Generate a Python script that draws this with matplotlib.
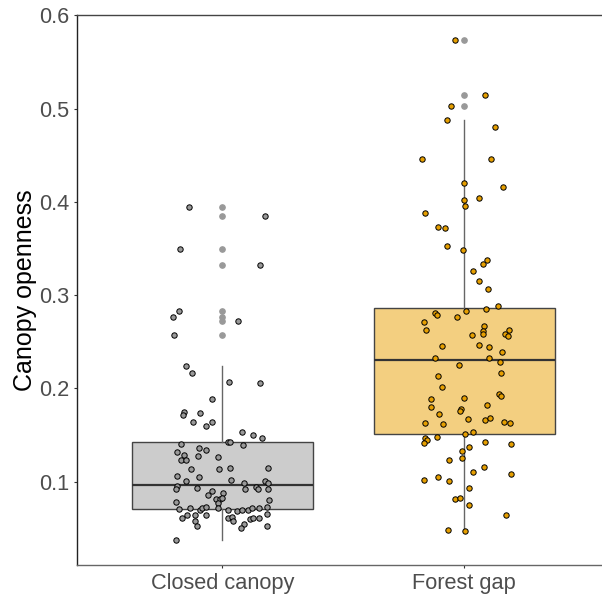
import numpy as np
import matplotlib
matplotlib.use("Agg")
import matplotlib.pyplot as plt

plt.rcParams['font.family'] = ['Liberation Sans', 'DejaVu Sans']

groups = ["Closed canopy", "Forest gap"]

# canopy openness of each plot, with the horizontal jitter offset used in the chart
closed_vals = [0.3945, 0.385, 0.3495, 0.3324, 0.2831, 0.2766, 0.2723, 0.2573, 0.2241, 0.2166,
               0.207, 0.2059, 0.1884, 0.1748, 0.1713, 0.1741, 0.1641, 0.1641, 0.1595, 0.1534,
               0.1498, 0.1466, 0.1408, 0.1427, 0.1427, 0.1398, 0.1319, 0.1359, 0.1338, 0.129,
               0.128, 0.1269, 0.123, 0.123, 0.1134, 0.1134, 0.1145, 0.1145, 0.1065, 0.1048,
               0.1009, 0.1019, 0.0987, 0.1009, 0.0984, 0.0955, 0.092, 0.093, 0.092, 0.0948,
               0.092, 0.092, 0.0901, 0.0862, 0.088, 0.0819, 0.0812, 0.0823, 0.0776, 0.0784,
               0.0805, 0.0708, 0.0719, 0.0701, 0.0719, 0.073, 0.0719, 0.0698, 0.0687, 0.0698,
               0.0695, 0.0719, 0.0719, 0.073, 0.0612, 0.0647, 0.0647, 0.0641, 0.0612, 0.0626,
               0.058, 0.0658, 0.058, 0.0523, 0.0548, 0.0505, 0.0598, 0.0612, 0.0612, 0.0523,
               0.0373]
closed_jit = [-0.14, 0.175, -0.177, 0.154, -0.181, -0.206, 0.063, -0.202, -0.152, -0.127,
              0.027, 0.154, -0.042, -0.159, -0.163, -0.091, -0.122, -0.042, -0.068, 0.079,
              0.126, 0.165, -0.173, 0.023, 0.031, 0.087, -0.188, -0.097, -0.068, -0.159,
              -0.101, -0.019, -0.17, -0.149, -0.129, -0.016, 0.03, 0.188, -0.188, -0.097,
              -0.149, 0.034, 0.089, 0.178, 0.188, -0.188, -0.191, -0.106, 0.093, 0.14,
              0.149, 0.188, -0.042, -0.06, 0.002, -0.025, -0.012, 0.0, -0.017, -0.191,
              0.192, -0.18, -0.136, -0.094, -0.083, -0.068, -0.019, 0.023, 0.062, 0.082,
              0.106, 0.124, 0.151, 0.184, -0.166, -0.145, -0.115, -0.068, 0.022, 0.038,
              0.043, 0.186, -0.114, -0.106, 0.089, 0.075, 0.113, 0.126, 0.151, 0.184,
              -0.191]

gap_vals = [0.5732, 0.5149, 0.5031, 0.4875, 0.4806, 0.4457, 0.4457, 0.4206, 0.4163, 0.4017,
            0.4039, 0.3959, 0.3881, 0.3734, 0.3717, 0.3531, 0.3481, 0.3374, 0.3334, 0.3259,
            0.3149, 0.3063, 0.2887, 0.2827, 0.2849, 0.2809, 0.2788, 0.2763, 0.271, 0.2673,
            0.2624, 0.2613, 0.2624, 0.2587, 0.2587, 0.2577, 0.2559, 0.2459, 0.2469, 0.2442,
            0.2388, 0.2327, 0.2324, 0.2284, 0.2255, 0.2166, 0.2137, 0.2013, 0.1938, 0.1916,
            0.1884, 0.1895, 0.1826, 0.1799, 0.178, 0.1759, 0.173, 0.167, 0.1662, 0.1684,
            0.1644, 0.1633, 0.1633, 0.162, 0.1516, 0.1534, 0.1466, 0.1445, 0.1416, 0.1483,
            0.1427, 0.1405, 0.137, 0.133, 0.1252, 0.1234, 0.1155, 0.1105, 0.1087, 0.1019,
            0.1055, 0.1009, 0.093, 0.0812, 0.0823, 0.0748, 0.0641, 0.0483, 0.0469]
gap_jit = [-0.038, 0.087, -0.055, -0.071, 0.125, -0.173, 0.11, -0.003, 0.159, 0.0,
           0.062, 0.004, -0.162, -0.108, -0.079, -0.071, -0.007, 0.095, 0.076, 0.034,
           0.062, 0.099, 0.14, 0.008, 0.088, -0.12, -0.111, -0.029, -0.166, 0.082,
           -0.158, 0.076, 0.185, 0.076, 0.169, 0.03, 0.182, -0.093, 0.062, 0.103,
           0.154, -0.12, 0.103, 0.147, -0.021, 0.151, -0.108, -0.093, 0.143, 0.151,
           -0.138, 0.0, 0.095, -0.138, -0.014, -0.018, -0.104, 0.016, 0.087, 0.106,
           0.163, 0.189, -0.162, -0.09, 0.004, 0.034, -0.162, -0.154, -0.166, -0.112,
           0.084, 0.192, 0.02, -0.011, -0.011, -0.063, 0.082, 0.034, 0.192, -0.166,
           -0.108, -0.063, 0.02, -0.038, -0.017, 0.02, 0.171, -0.067, 0.004]

# box summary as drawn (lower whisker, Q1, median, Q3, upper whisker)
whislo = [0.0373, 0.0469]
q1 = [0.0708, 0.1512]
med = [0.0962, 0.2309]
q3 = [0.1427, 0.2860]
whishi = [0.2241, 0.4875]

fill_colors = ["#999999", "#E69F00"]

all_vals = [np.array(closed_vals), np.array(gap_vals)]
all_jit = [np.array(closed_jit), np.array(gap_jit)]

stats = []
for i in range(2):
    v = all_vals[i]
    stats.append(dict(whislo=whislo[i], q1=q1[i], med=med[i], q3=q3[i], whishi=whishi[i],
                      fliers=v[v > whishi[i] + 1e-6], label=groups[i]))

fig = plt.figure(figsize=(6.02, 5.98), dpi=100)
ax = fig.add_axes([0.1284, 0.0552, 0.8839, 0.9192])

bp = ax.bxp(stats, positions=[1, 2], widths=0.75, patch_artist=True, showcaps=False,
            boxprops=dict(edgecolor="#444444", linewidth=1.0),
            whiskerprops=dict(color="#666666", linewidth=1.0),
            medianprops=dict(color="#333333", linewidth=1.6),
            flierprops=dict(marker="o", markerfacecolor="#999999", markeredgecolor="#999999",
                            markersize=3.8, linestyle="none"),
            zorder=1)
# box fill = group colour at half opacity over white
for patch, c in zip(bp["boxes"], fill_colors):
    r, g, b = matplotlib.colors.to_rgb(c)
    patch.set_facecolor((r * 0.5 + 0.5, g * 0.5 + 0.5, b * 0.5 + 0.5))

for i in range(2):
    ax.scatter(i + 1 + all_jit[i], all_vals[i], s=15, facecolor=fill_colors[i],
               edgecolor="black", linewidth=0.7, zorder=3)

ax.set_xlim(0.4, 2.6)
ax.set_ylim(0.0108, 0.6)
ax.set_xticks([1, 2])
ax.set_xticklabels(groups)
ax.set_yticks([0.1, 0.2, 0.3, 0.4, 0.5, 0.6])
ax.set_yticklabels(["0.1", "0.2", "0.3", "0.4", "0.5", "0.6"])
ax.tick_params(axis="both", labelsize=15.7, labelcolor="#4D4D4D", length=2.5, width=0.8,
               color="#333333", pad=3)
ax.tick_params(axis="x", pad=3)
ax.set_ylabel("Canopy openness", fontsize=18, color="black", labelpad=2)

ax.spines["left"].set_color("#222222")
ax.spines["top"].set_color("#444444")
ax.spines["bottom"].set_color("#666666")
ax.spines["right"].set_visible(False)
for s in ax.spines.values():
    s.set_linewidth(1.0)

fig.savefig("out.png", dpi=100)
